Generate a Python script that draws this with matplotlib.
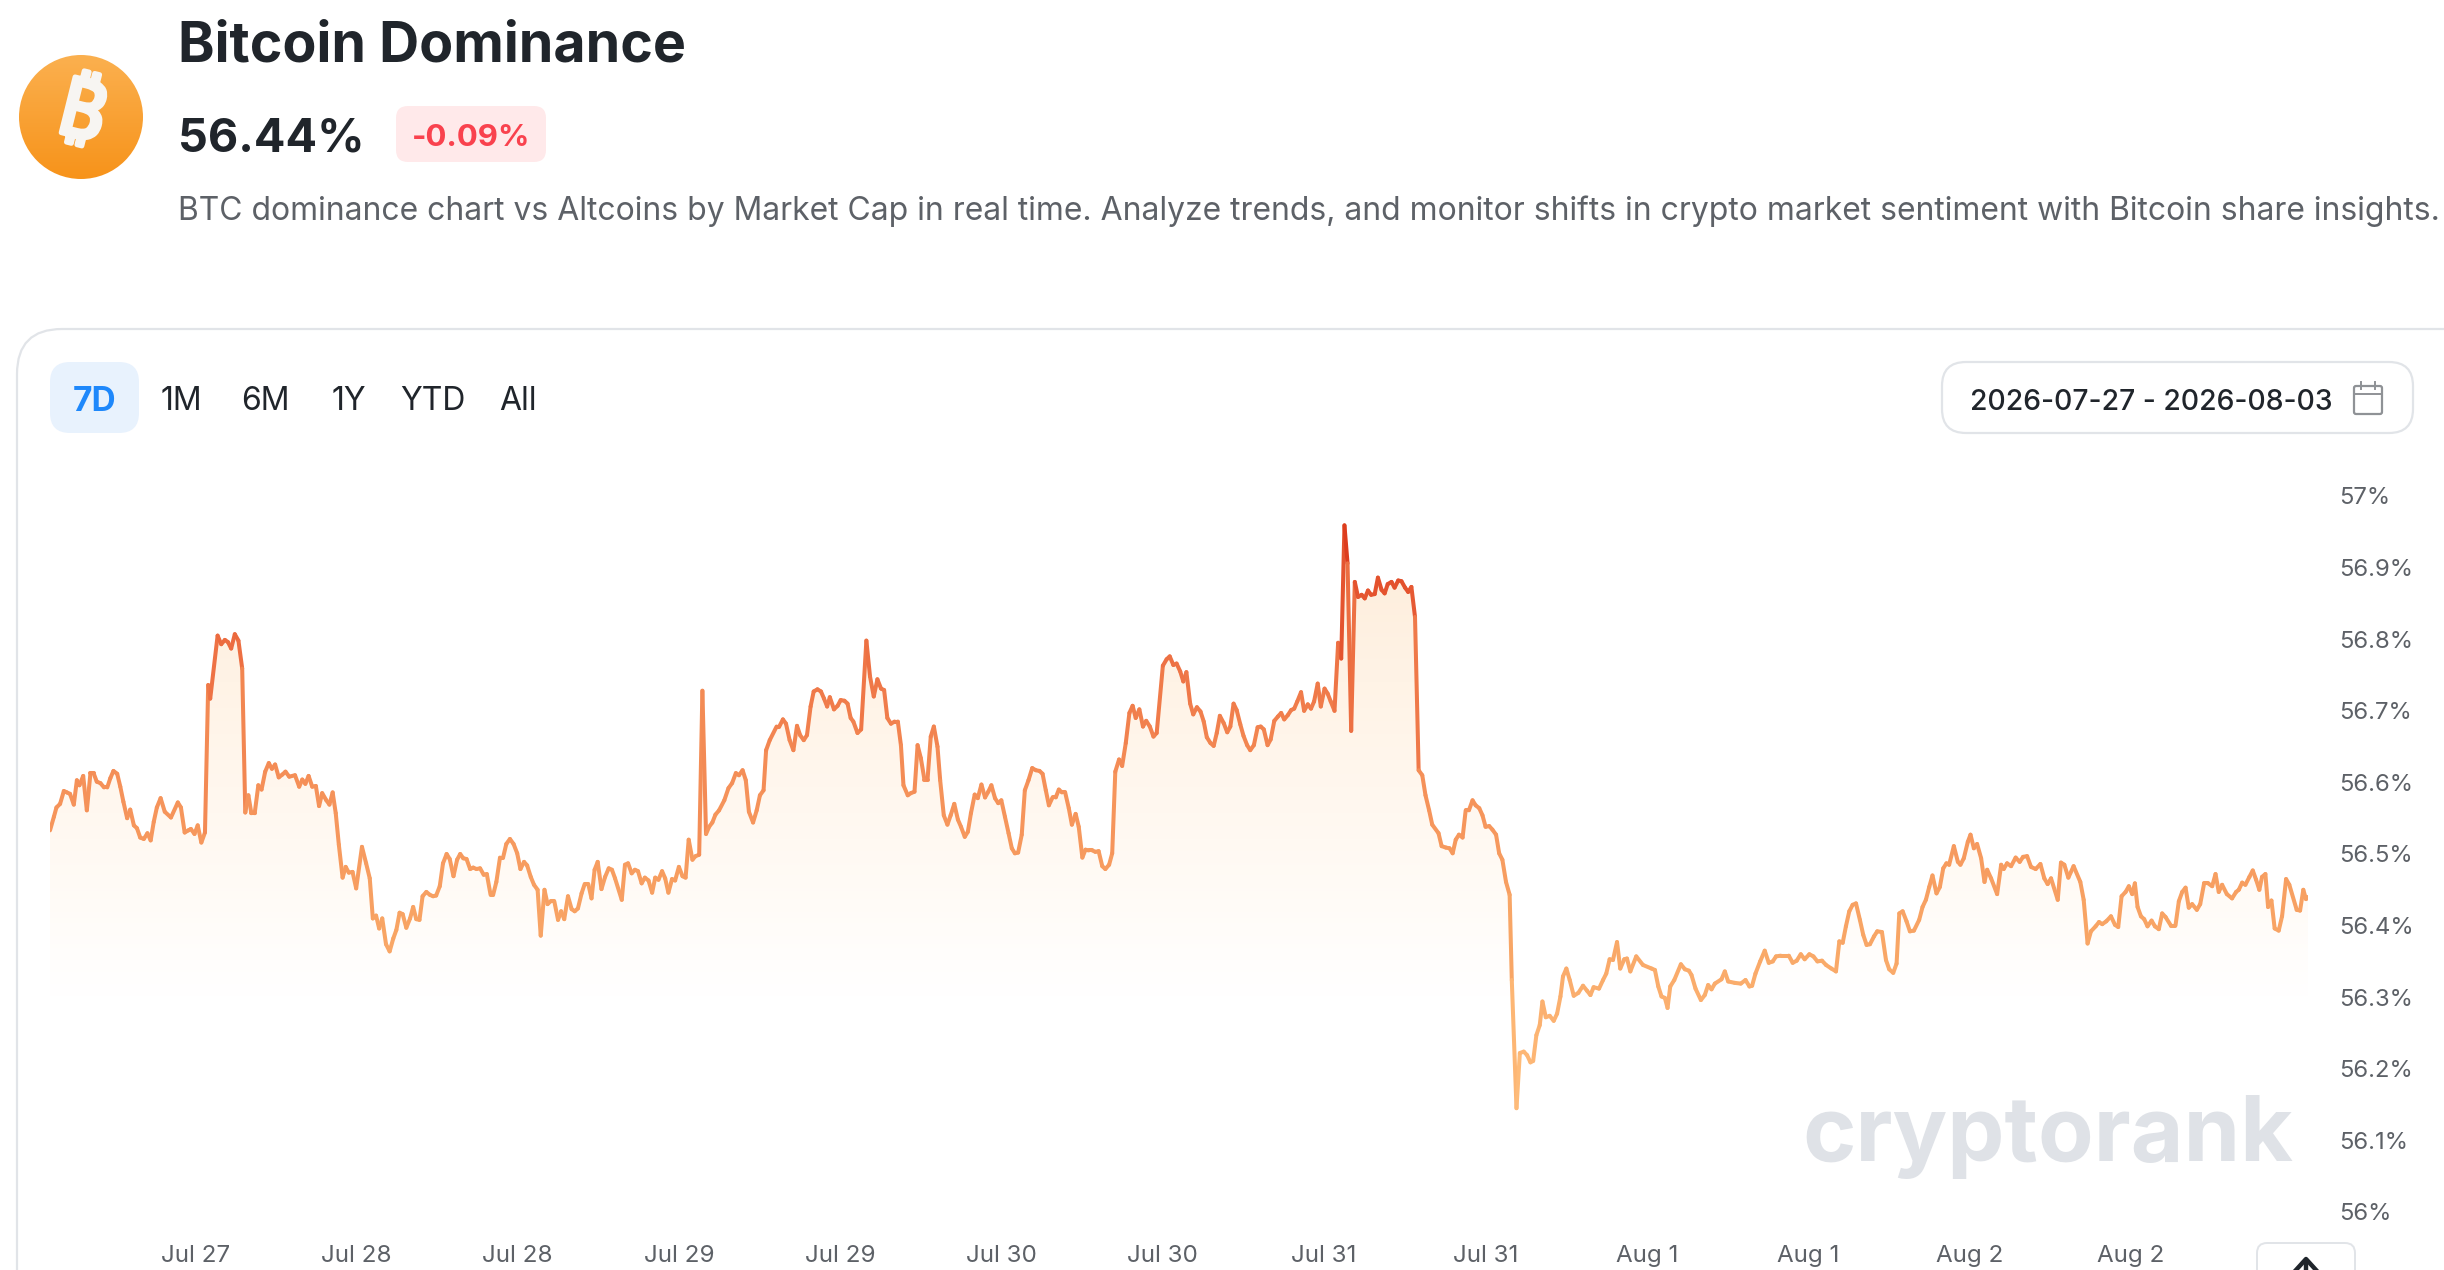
import numpy as np
import matplotlib
matplotlib.use("Agg")
import matplotlib.pyplot as plt
import matplotlib.patheffects as pe
from matplotlib import font_manager
from matplotlib.collections import LineCollection
from matplotlib.colors import LinearSegmentedColormap
from matplotlib.patches import Circle, FancyBboxPatch, PathPatch
from matplotlib.path import Path

plt.rcParams['font.family'] = ['Inter', 'DejaVu Sans']

# BTC dominance, hours since the start of the 7D window
hours = [
    0, .29, .48, .75, 1.03, 1.26, 1.49, 1.77, 2.0, 2.19, 2.47, 2.74, 3.01, 3.24, 3.48, 3.75, 4.02, 4.26, 4.49, 4.72,
    5.0, 5.23, 5.46, 5.74, 5.97, 6.24, 6.47, 6.71, 6.98, 7.25, 7.49, 7.72, 7.95, 8.23, 8.54, 9.0, 9.51, 9.74, 10.02, 10.29,
    10.48, 10.75, 10.99, 11.26, 11.53, 11.77, 11.92, 12.47, 12.74, 13.01, 13.24, 13.48, 13.75, 14.02, 14.3, 14.53, 14.76, 14.98, 15.23, 15.5,
    15.74, 16.01, 16.28, 16.51, 16.75, 17.02, 17.29, 17.52, 17.8, 18.23, 18.54, 18.77, 19.0, 19.24, 19.51, 19.78, 20.02, 20.25, 20.56, 20.79,
    21.03, 21.26, 21.49, 21.77, 22.0, 22.23, 22.51, 22.78, 23.21, 23.52, 23.79, 24.02, 24.26, 24.49, 24.72, 25.0, 25.27, 25.54, 25.77, 26.01,
    26.24, 26.51, 26.79, 27.02, 27.25, 27.49, 27.72, 28.0, 28.26, 28.5, 28.73, 29.0, 29.24, 29.51, 29.74, 30.02, 30.29, 30.52, 30.75, 30.99,
    31.26, 31.49, 31.73, 32.0, 32.27, 32.5, 32.78, 32.97, 33.21, 33.48, 33.71, 33.95, 34.22, 34.49, 34.76, 35.0, 35.27, 35.5, 35.77, 36.01,
    36.28, 36.51, 36.79, 37.02, 37.25, 37.52, 37.8, 38.03, 38.26, 38.54, 38.81, 39.04, 39.28, 39.55, 39.78, 40.05, 40.29, 40.52, 40.75, 41.03,
    41.3, 41.57, 41.81, 42.04, 42.54, 42.78, 43.01, 43.28, 43.52, 43.75, 44.02, 44.26, 44.53, 44.8, 45.03, 45.27, 45.54, 45.77, 46.01, 46.28,
    46.51, 46.79, 47.06, 47.29, 47.52, 47.8, 48.03, 48.3, 48.54, 48.81, 49.04, 49.28, 49.51, 49.78, 50.17, 50.48, 50.75, 51.03, 51.26, 51.53,
    51.77, 52.0, 52.31, 52.58, 52.82, 53.09, 53.28, 53.55, 54.06, 54.26, 54.53, 54.76, 55.03, 55.31, 55.58, 55.81, 56.08, 56.32, 56.59, 56.82,
    57.1, 57.36, 57.59, 57.82, 58.02, 58.33, 58.6, 58.83, 59.11, 59.34, 59.57, 59.77, 60.08, 60.35, 60.74, 61.01, 61.29, 61.56, 61.83, 62.06,
    62.3, 62.57, 62.84, 63.08, 63.31, 63.5, 63.82, 64.05, 64.32, 64.55, 64.79, 65.06, 65.29, 65.53, 65.76, 66.03, 66.23, 66.5, 66.77, 67.01,
    67.28, 67.55, 67.78, 68.06, 68.29, 68.52, 68.8, 69.03, 69.3, 69.57, 69.81, 70.04, 70.31, 70.55, 70.78, 71.05, 71.32, 71.56, 71.79, 72.03,
    72.3, 72.53, 72.8, 73.08, 73.35, 73.62, 73.85, 74.09, 74.32, 74.59, 74.83, 75.06, 75.29, 75.53, 75.8, 76.03, 76.31, 76.54, 76.81, 77.04,
    77.28, 77.55, 77.78, 78.02, 78.29, 78.52, 78.8, 79.03, 79.26, 79.54, 79.77, 80.04, 80.31, 80.55, 80.78, 81.05, 81.32, 81.56, 81.83, 82.1,
    82.34, 82.8, 83.08, 83.31, 83.58, 83.82, 84.09, 84.32, 84.55, 84.83, 85.06, 85.33, 85.6, 85.84, 86.07, 86.34, 86.58, 86.81, 87.04, 87.32,
    87.59, 87.82, 88.06, 88.29, 88.56, 88.8, 89.07, 89.3, 89.57, 89.85, 90.08, 90.31, 90.59, 90.82, 91.09, 91.36, 91.6, 91.83, 92.1, 92.34,
    92.57, 92.8, 93.08, 93.31, 93.58, 93.82, 94.05, 94.32, 94.55, 94.83, 95.06, 95.29, 95.57, 95.84, 96.07, 96.31, 96.54, 96.81, 97.08, 97.32,
    97.59, 97.82, 98.06, 98.29, 98.56, 98.8, 99.07, 99.3, 99.53, 99.81, 100.04, 100.31, 100.55, 100.82, 101.05, 101.29, 101.56, 101.83, 102.1, 102.34,
    102.61, 102.84, 103.31, 103.54, 103.85, 104.13, 104.36, 104.59, 104.83, 105.1, 105.33, 105.57, 105.84, 106.07, 106.34, 106.58, 106.81, 107.08, 107.32, 107.59,
    107.82, 108.06, 108.33, 108.6, 108.76, 109.11, 109.36, 109.65, 109.9, 110.15, 110.35, 110.59, 110.84, 111.04, 111.29, 111.58, 111.88, 112.13, 112.38, 112.57,
    112.82, 113.07, 113.37, 113.71, 114.06, 114.36, 114.61, 114.85, 115.25, 115.55, 115.79, 116.04, 116.29, 116.59, 116.83, 117.13, 117.33, 117.58, 118.02, 118.52,
    119.16, 119.41, 119.66, 119.9, 120.15, 120.35, 120.55, 120.85, 121.34, 121.64, 121.94, 122.13, 122.43, 122.83, 123.12, 123.37, 123.62, 123.87, 124.36, 124.61,
    124.86, 125.35, 125.8, 126.15, 126.44, 126.64, 126.89, 127.24, 127.58, 127.88, 128.18, 128.42, 128.77, 129.37, 129.66, 129.96, 130.26, 130.55, 130.9, 131.2,
    131.5, 131.84, 132.14, 132.54, 132.88, 133.13, 133.38, 133.62, 133.87, 134.12, 134.37, 134.66, 134.91, 135.16, 135.41, 135.71, 135.95, 136.3, 136.6, 136.84,
    137.14, 137.39, 137.59, 137.84, 138.13, 138.38, 138.68, 139.07, 139.32, 139.57, 139.82, 140.06, 140.36, 140.61, 140.86, 141.1, 141.3, 141.65, 141.95, 142.14,
    142.39, 142.69, 142.89, 143.14, 143.38, 143.68, 143.93, 144.13, 144.42, 144.87, 145.17, 145.36, 145.61, 145.91, 146.25, 146.55, 146.8, 147.1, 147.39, 147.74,
    148.09, 148.38, 148.63, 148.88, 149.38, 149.62, 149.87, 150.17, 150.56, 151.06, 151.31, 151.6, 151.85, 152.2, 152.45, 152.69, 152.99, 153.34, 153.64, 153.88,
    154.13, 154.43, 154.67, 154.92, 155.12, 155.32, 155.57, 155.81, 156.06, 156.36, 156.61, 156.9, 157.15, 157.4, 157.8, 158.14, 158.39, 158.64, 158.89, 159.13,
    159.38, 159.73, 159.98, 160.27, 160.57, 160.87, 161.12, 161.36, 161.61, 161.96, 162.35, 162.65, 162.85, 163.1, 163.34, 163.64, 163.89, 164.14, 164.38, 164.58,
    164.83, 165.03, 165.28, 165.52, 165.82, 166.07, 166.37, 166.61, 167.16, 167.41, 167.65, 167.85, 168.0,
]
dominance = [
    56.533, 56.552, 56.565, 56.570, 56.588, 56.586, 56.584, 56.569, 56.603, 56.596, 56.609, 56.561, 56.613, 56.613, 56.601, 56.599, 56.593, 56.593, 56.606, 56.616,
    56.612, 56.594, 56.573, 56.550, 56.562, 56.540, 56.536, 56.523, 56.521, 56.529, 56.519, 56.545, 56.565, 56.578, 56.559, 56.551, 56.572, 56.565, 56.530, 56.533,
    56.535, 56.528, 56.540, 56.516, 56.530, 56.736, 56.717, 56.805, 56.793, 56.799, 56.796, 56.787, 56.807, 56.798, 56.759, 56.558, 56.582, 56.557, 56.557, 56.596,
    56.590, 56.615, 56.627, 56.619, 56.625, 56.607, 56.611, 56.615, 56.608, 56.610, 56.594, 56.604, 56.598, 56.609, 56.594, 56.595, 56.567, 56.585, 56.575, 56.569,
    56.586, 56.557, 56.513, 56.467, 56.482, 56.474, 56.475, 56.452, 56.510, 56.487, 56.466, 56.410, 56.414, 56.396, 56.410, 56.374, 56.364, 56.382, 56.394, 56.418,
    56.416, 56.397, 56.410, 56.426, 56.409, 56.408, 56.441, 56.447, 56.443, 56.441, 56.442, 56.455, 56.487, 56.500, 56.493, 56.469, 56.492, 56.500, 56.494, 56.493,
    56.479, 56.481, 56.479, 56.480, 56.471, 56.472, 56.443, 56.443, 56.461, 56.495, 56.495, 56.514, 56.521, 56.514, 56.501, 56.479, 56.489, 56.484, 56.468, 56.457,
    56.450, 56.386, 56.450, 56.430, 56.434, 56.434, 56.408, 56.420, 56.409, 56.441, 56.423, 56.420, 56.424, 56.445, 56.458, 56.458, 56.438, 56.478, 56.489, 56.451,
    56.468, 56.480, 56.478, 56.466, 56.436, 56.485, 56.487, 56.473, 56.478, 56.476, 56.459, 56.467, 56.463, 56.446, 56.467, 56.464, 56.476, 56.466, 56.446, 56.465,
    56.463, 56.482, 56.469, 56.467, 56.520, 56.492, 56.497, 56.499, 56.728, 56.528, 56.538, 56.544, 56.555, 56.561, 56.575, 56.592, 56.599, 56.613, 56.610, 56.617,
    56.603, 56.559, 56.544, 56.561, 56.582, 56.589, 56.645, 56.659, 56.678, 56.678, 56.688, 56.682, 56.659, 56.645, 56.679, 56.666, 56.659, 56.666, 56.706, 56.727,
    56.730, 56.727, 56.717, 56.706, 56.719, 56.702, 56.707, 56.715, 56.714, 56.710, 56.690, 56.685, 56.669, 56.674, 56.798, 56.748, 56.720, 56.744, 56.731, 56.729,
    56.690, 56.682, 56.685, 56.685, 56.652, 56.596, 56.582, 56.585, 56.587, 56.652, 56.634, 56.604, 56.604, 56.664, 56.678, 56.650, 56.603, 56.554, 56.541, 56.554,
    56.570, 56.548, 56.538, 56.524, 56.531, 56.557, 56.583, 56.578, 56.597, 56.579, 56.587, 56.596, 56.578, 56.571, 56.575, 56.552, 56.529, 56.508, 56.501, 56.502,
    56.527, 56.589, 56.603, 56.620, 56.617, 56.616, 56.612, 56.589, 56.568, 56.579, 56.579, 56.590, 56.586, 56.586, 56.564, 56.541, 56.556, 56.538, 56.495, 56.506,
    56.505, 56.505, 56.503, 56.504, 56.483, 56.479, 56.485, 56.501, 56.615, 56.632, 56.623, 56.655, 56.697, 56.707, 56.690, 56.702, 56.678, 56.686, 56.678, 56.664,
    56.669, 56.763, 56.772, 56.776, 56.764, 56.766, 56.755, 56.741, 56.754, 56.710, 56.695, 56.705, 56.699, 56.685, 56.663, 56.655, 56.651, 56.669, 56.693, 56.683,
    56.670, 56.678, 56.710, 56.701, 56.681, 56.665, 56.652, 56.645, 56.652, 56.677, 56.678, 56.674, 56.652, 56.660, 56.686, 56.692, 56.697, 56.688, 56.694, 56.701,
    56.703, 56.713, 56.726, 56.700, 56.709, 56.703, 56.713, 56.738, 56.706, 56.731, 56.724, 56.713, 56.700, 56.795, 56.773, 56.959, 56.906, 56.672, 56.880, 56.859,
    56.862, 56.857, 56.868, 56.862, 56.863, 56.886, 56.869, 56.864, 56.877, 56.880, 56.872, 56.882, 56.881, 56.872, 56.866, 56.873, 56.831, 56.617, 56.610, 56.582,
    56.561, 56.541, 56.529, 56.511, 56.509, 56.508, 56.501, 56.520, 56.527, 56.523, 56.561, 56.561, 56.575, 56.568, 56.564, 56.554, 56.538, 56.539, 56.534, 56.527,
    56.501, 56.492, 56.461, 56.443, 56.324, 56.145, 56.222, 56.224, 56.219, 56.209, 56.211, 56.247, 56.261, 56.294, 56.272, 56.274, 56.267, 56.277, 56.301, 56.329,
    56.340, 56.324, 56.302, 56.306, 56.316, 56.309, 56.303, 56.314, 56.312, 56.324, 56.333, 56.353, 56.352, 56.377, 56.340, 56.353, 56.354, 56.336, 56.357, 56.345,
    56.340, 56.338, 56.315, 56.301, 56.299, 56.285, 56.315, 56.324, 56.346, 56.339, 56.337, 56.331, 56.312, 56.296, 56.303, 56.317, 56.311, 56.319, 56.325, 56.336,
    56.322, 56.320, 56.319, 56.324, 56.315, 56.316, 56.333, 56.350, 56.365, 56.348, 56.350, 56.357, 56.358, 56.358, 56.348, 56.351, 56.360, 56.353, 56.360, 56.357,
    56.350, 56.351, 56.345, 56.340, 56.336, 56.378, 56.376, 56.399, 56.420, 56.429, 56.431, 56.408, 56.387, 56.373, 56.374, 56.385, 56.392, 56.391, 56.352, 56.339,
    56.334, 56.347, 56.417, 56.420, 56.406, 56.392, 56.393, 56.408, 56.426, 56.436, 56.454, 56.470, 56.445, 56.454, 56.480, 56.487, 56.485, 56.511, 56.489, 56.485,
    56.494, 56.517, 56.527, 56.508, 56.514, 56.494, 56.461, 56.478, 56.466, 56.444, 56.485, 56.479, 56.487, 56.483, 56.495, 56.489, 56.496, 56.497, 56.482, 56.479,
    56.486, 56.466, 56.458, 56.466, 56.436, 56.488, 56.485, 56.467, 56.483, 56.461, 56.436, 56.375, 56.392, 56.399, 56.405, 56.402, 56.406, 56.413, 56.401, 56.398,
    56.441, 56.447, 56.455, 56.444, 56.459, 56.426, 56.413, 56.409, 56.399, 56.407, 56.399, 56.395, 56.417, 56.412, 56.400, 56.400, 56.434, 56.447, 56.453, 56.425,
    56.430, 56.422, 56.430, 56.459, 56.459, 56.455, 56.472, 56.447, 56.457, 56.444, 56.438, 56.447, 56.450, 56.460, 56.457, 56.468, 56.477, 56.464, 56.450, 56.468,
    56.472, 56.426, 56.435, 56.396, 56.393, 56.413, 56.465, 56.457, 56.422, 56.421, 56.450, 56.437, 56.440,
]

x_tick_hours = [10.8, 22.8, 34.8, 46.8, 58.8, 70.8, 82.8, 94.8, 106.8, 118.8, 130.8, 142.8, 154.8, 166.8]
x_tick_labels = ['Jul 27', 'Jul 28', 'Jul 28', 'Jul 29', 'Jul 29', 'Jul 30', 'Jul 30', 'Jul 31', 'Jul 31',
                 'Aug 1', 'Aug 1', 'Aug 2', 'Aug 2', 'Aug 3']
y_ticks = [56.0, 56.1, 56.2, 56.3, 56.4, 56.5, 56.6, 56.7, 56.8, 56.9, 57.0]
y_tick_labels = ['56%', '56.1%', '56.2%', '56.3%', '56.4%', '56.5%', '56.6%', '56.7%', '56.8%', '56.9%', '57%']
range_buttons = ['1M', '6M', '1Y', 'YTD', 'All']

W, H = 2444, 1270
DARK = '#20252b'
GREY = '#5d6167'
BORDER = '#e1e4e8'

fig = plt.figure(figsize=(W / 100, H / 100), dpi=100, facecolor='white')

# chart area
ax = fig.add_axes([50 / W, (H - 1212) / H, 2258 / W, 716 / H], zorder=2)
ax.patch.set_alpha(0)

x = np.array(hours)
y = np.array(dominance)

# soft fill under the line, fades out near 56.3
fill_cmap = LinearSegmentedColormap.from_list('fill', ['#ffffff', '#fff9f2', '#fff3e6', '#fdecd9'])
grad = np.linspace(1, 0, 256).reshape(-1, 1)
img = ax.imshow(grad, extent=(0, 168, 56.3, 56.96), aspect='auto', cmap=fill_cmap, vmin=0, vmax=1, zorder=1)
floor = 56.3
top = np.maximum(y, floor)
verts = [(x[0], floor)] + list(zip(x, top)) + [(x[-1], floor), (x[0], floor)]
codes = [Path.MOVETO] + [Path.LINETO] * (len(verts) - 2) + [Path.CLOSEPOLY]
clip = PathPatch(Path(verts, codes), transform=ax.transData, facecolor='none', edgecolor='none')
ax.add_patch(clip)
img.set_clip_path(clip)

# line colour follows the value
line_cmap = LinearSegmentedColormap.from_list(
    'line', [(0, '#ffbe7c'), (0.3, '#f8a565'), (0.55, '#f59159'), (0.8, '#ec6c40'), (1, '#da3418')])
segs = np.column_stack([x[:-1], y[:-1], x[1:], y[1:]]).reshape(-1, 2, 2)
lc = LineCollection(segs, cmap=line_cmap, linewidths=2.9, capstyle='round', joinstyle='round', zorder=3)
lc.set_array((y[:-1] + y[1:]) / 2)
lc.set_clim(56.15, 56.96)
ax.add_collection(lc)

ax.set_xlim(0, 168)
ax.set_ylim(56, 57)
for s in ax.spines.values():
    s.set_visible(False)
ax.yaxis.tick_right()
ax.set_xticks(x_tick_hours)
ax.set_xticklabels(x_tick_labels)
ax.set_yticks(y_ticks)
ax.set_yticklabels(y_tick_labels)
ax.tick_params(axis='x', length=0, pad=23.5, labelsize=17.4, labelcolor=GREY)
ax.tick_params(axis='y', length=0, pad=22.5, labelsize=17.2, labelcolor=GREY)
for lab in ax.get_yticklabels():
    lab.set_y(lab.get_position()[1])

# page furniture, in pixel coordinates
ui = fig.add_axes([0, 0, 1, 1], zorder=5)
ui.set_xlim(0, W)
ui.set_ylim(H, 0)
ui.axis('off')
ui.patch.set_alpha(0)

icon_grad = LinearSegmentedColormap.from_list('icon', ['#fbb04f', '#f7931a'])
icon = ui.imshow(np.linspace(0, 1, 128).reshape(-1, 1), extent=(19, 143, 179, 55), aspect='auto',
                 cmap=icon_grad, zorder=1)
circle = Circle((81, 117), 62, transform=ui.transData, facecolor='none', edgecolor='none')
ui.add_patch(circle)
icon.set_clip_path(circle)
ui.set_xlim(0, W)
ui.set_ylim(H, 0)

# use the bitcoin sign if some installed family has it, else a B with the two bars
coin_family = None
for fam in ['Noto Sans', 'Roboto', 'Open Sans', 'Lato', 'Liberation Sans', 'Inter']:
    if font_manager.get_font(font_manager.findfont(fam)).get_char_index(0x20bf):
        coin_family = fam
        break
if coin_family:
    coin = ui.text(81, 116, '\u20bf', fontsize=58, color='#f7f5f2', ha='center', va='center', rotation=-14,
                   family=[coin_family], fontweight='bold', zorder=2)
    coin.set_path_effects([pe.withStroke(linewidth=3.5, foreground='#f7f5f2')])
else:
    ui.text(81, 117, 'B', fontsize=46, color='#f7f5f2', ha='center', va='center', rotation=-14,
            family=['Noto Sans'], fontweight='bold', zorder=2)
    for bx, by in [(84, 84), (96, 87), (66, 147), (78, 150)]:
        ui.plot([bx, bx + 2.5], [by + 8, by - 2], color='#f7f5f2', lw=3.6, zorder=2, solid_capstyle='butt')

ui.text(178, 47, 'Bitcoin Dominance', fontsize=39.9, fontweight='bold', color=DARK, va='center', ha='left')
ui.text(178, 140, '56.44%', fontsize=33.7, fontweight='bold', color=DARK, va='center', ha='left')
ui.add_patch(FancyBboxPatch((396 + 12, 106 + 12), 150 - 24, 56 - 24, boxstyle='round,pad=12,rounding_size=12',
                            facecolor='#ffe9ea', edgecolor='none'))
ui.text(471, 138, '-0.09%', fontsize=22.4, fontweight='bold', color='#f9424e', va='center', ha='center')
ui.text(178, 211,
        'BTC dominance chart vs Altcoins by Market Cap in real time. Analyze trends, and monitor shifts '
        'in crypto market sentiment with Bitcoin share insights.',
        fontsize=22.95, color=GREY, va='center', ha='left')

# card outline runs off the right and bottom of the page
ui.add_patch(FancyBboxPatch((17 + 45, 329 + 45), 2480, 1100, boxstyle='round,pad=45,rounding_size=45',
                            facecolor='none', edgecolor=BORDER, linewidth=1.6))

ui.add_patch(FancyBboxPatch((50 + 20, 362 + 20), 89 - 40, 71 - 40, boxstyle='round,pad=20,rounding_size=20',
                            facecolor='#e8f2fd', edgecolor='none'))
ui.text(95, 402, '7D', fontsize=24, fontweight='bold', color='#1e88fb', va='center', ha='center')
for label, px in zip(range_buttons, [181, 265, 349, 433, 518]):
    ui.text(px, 402, label, fontsize=23, color=DARK, va='center', ha='center')

ui.add_patch(FancyBboxPatch((1942 + 24, 362 + 24), 471 - 48, 71 - 48, boxstyle='round,pad=24,rounding_size=24',
                            facecolor='white', edgecolor=BORDER, linewidth=1.6))
ui.text(1970, 402, '2026-07-27 - 2026-08-03', fontsize=20.4, fontweight='medium', color=DARK, va='center', ha='left')
ui.add_patch(FancyBboxPatch((2354, 386), 28, 28, boxstyle='round,pad=0,rounding_size=2',
                            facecolor='none', edgecolor='#8f9296', linewidth=1.6))
ui.plot([2354, 2382], [394, 394], color='#8f9296', lw=1.4)
ui.plot([2361, 2361], [382, 389], color='#8f9296', lw=1.4)
ui.plot([2375, 2375], [382, 389], color='#8f9296', lw=1.4)

ui.text(2048, 1137, 'cryptorank', fontsize=65.5, color='#dfe2e7', va='center', ha='center', fontweight='bold', zorder=1)

# back-to-top button covers the last date label
ui.add_patch(FancyBboxPatch((2257 + 10, 1243 + 10), 98 - 20, 60, boxstyle='round,pad=10,rounding_size=10',
                            facecolor='white', edgecolor=BORDER, linewidth=1.4, zorder=4))
ui.plot([2306, 2306], [1262, 1275], color=DARK, lw=3.2, zorder=5)
ui.plot([2296, 2306, 2316], [1270, 1259, 1270], color=DARK, lw=3.2, zorder=5)

fig.savefig('out.png', dpi=100)
